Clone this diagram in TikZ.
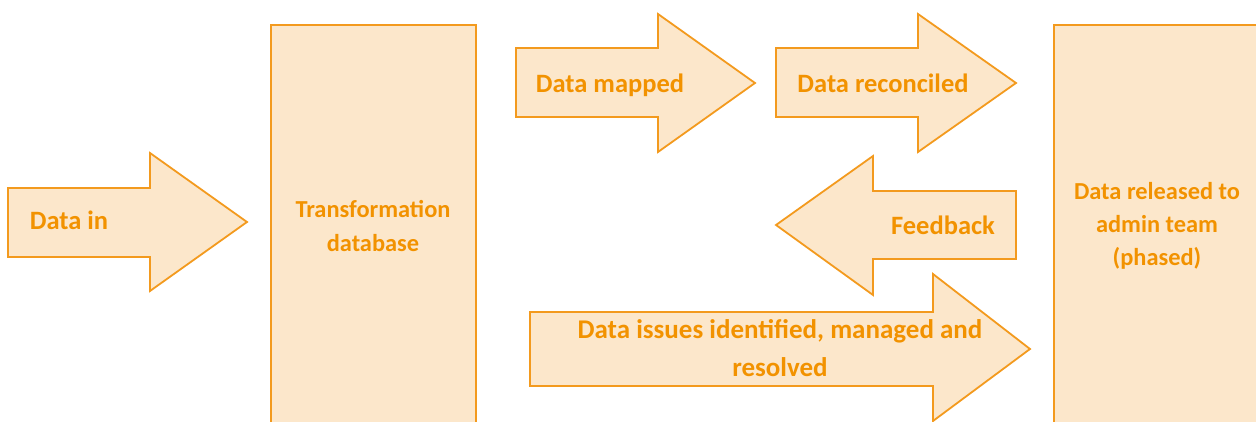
\documentclass[tikz,border=0pt]{standalone}
\usepackage{fontspec}
\setmainfont{Carlito}
\definecolor{edge}{HTML}{F39A1E}
\definecolor{pale}{HTML}{FCE7CB}
\definecolor{ink}{HTML}{F29200}
\begin{document}
\begin{tikzpicture}[x=1pt,y=1pt,
  blockshape/.style={draw=edge,fill=pale,line width=1.8pt,line join=miter},
  lbl/.style={text=ink,font=\bfseries\fontsize{26.5}{33.5}\selectfont,align=center,inner sep=0pt},
  boxlbl/.style={lbl,font=\bfseries\fontsize{24.4}{33.5}\selectfont}]
\useasboundingbox (0,0) rectangle (1256,421);
\begin{scope}
\clip (0,0) rectangle (1256,421);
% tall boxes (run off the lower and right edges)
\draw[blockshape] (271,-10) -- (271,396) -- (476,396) -- (476,-10);
\draw[blockshape] (1054,-10) -- (1054,396) -- (1270,396);
\fill[pale] (1055,-10) rectangle (1270,395);
% right-pointing arrows
\draw[blockshape] (8,233) -- (150,233) -- (150,268) -- (247,199) -- (150,130) -- (150,164) -- (8,164) -- cycle;
\draw[blockshape] (516,373) -- (658,373) -- (658,407) -- (755,338) -- (658,269) -- (658,304) -- (516,304) -- cycle;
\draw[blockshape] (776,373) -- (918,373) -- (918,407) -- (1016,338) -- (918,269) -- (918,304) -- (776,304) -- cycle;
% left-pointing feedback arrow
\draw[blockshape] (1016,230) -- (873,230) -- (873,265) -- (776,196) -- (873,126) -- (873,162) -- (1016,162) -- cycle;
% wide arrow at the bottom
\draw[blockshape] (530,109) -- (933,109) -- (933,147) -- (1030,72) -- (933,0) -- (933,35) -- (530,35) -- cycle;
\end{scope}
\node[lbl] (datain) at (69,201) {Data in};
\node[boxlbl] (transform) at (373,195) {Transformation\\database};
\node[lbl] (mapped) at (610,336) {Data mapped};
\node[lbl] (reconciled) at (883,338) {Data reconciled};
\node[lbl] (feedback) at (943,196) {Feedback};
\node[lbl,font=\bfseries\fontsize{27}{38}\selectfont] (issues) at (780,73) {Data issues identified, managed and\\resolved};
\node[boxlbl,font=\bfseries\fontsize{24.4}{33}\selectfont] (released) at (1157,195) {Data released to\\admin team\\(phased)};
\end{tikzpicture}
\end{document}
